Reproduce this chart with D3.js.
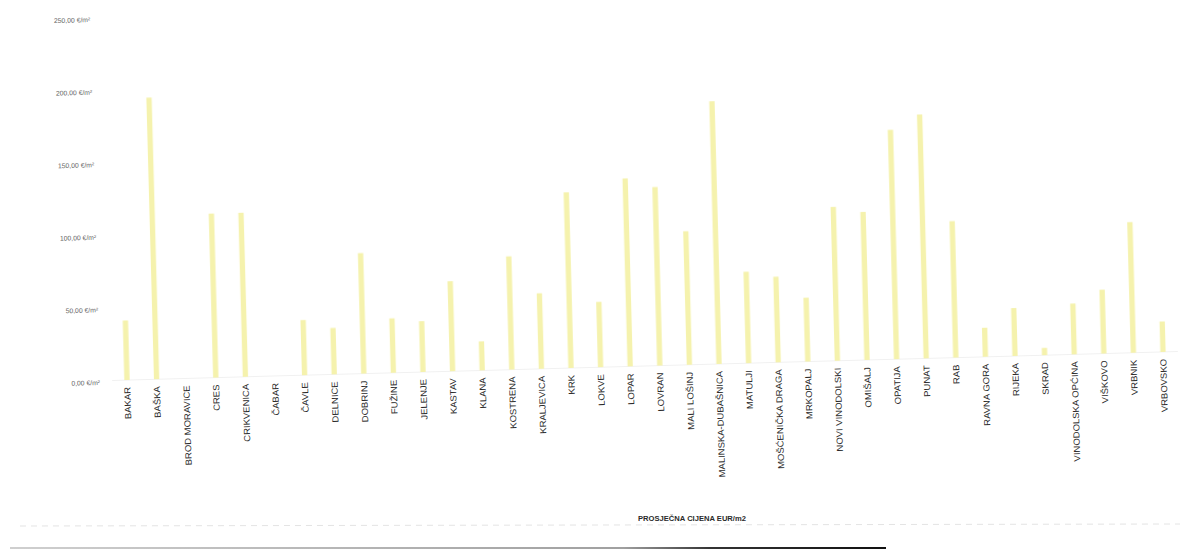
<!DOCTYPE html>
<html>
<head>
<meta charset="utf-8">
<script src="https://cdn.jsdelivr.net/npm/d3@7"></script>
<style>
  html, body { margin: 0; padding: 0; background: #ffffff; }
  svg { display: block; }
</style>
</head>
<body>
<svg id="chart" width="1200" height="552"></svg>
<script>
// Average price per m² by municipality
const categories = [
  "BAKAR", "BAŠKA", "BROD MORAVICE", "CRES", "CRIKVENICA", "ČABAR", "ČAVLE",
  "DELNICE", "DOBRINJ", "FUŽINE", "JELENJE", "KASTAV", "KLANA", "KOSTRENA",
  "KRALJEVICA", "KRK", "LOKVE", "LOPAR", "LOVRAN", "MALI LOŠINJ",
  "MALINSKA-DUBAŠNICA", "MATULJI", "MOŠĆENIČKA DRAGA", "MRKOPALJ",
  "NOVI VINODOLSKI", "OMIŠALJ", "OPATIJA", "PUNAT", "RAB", "RAVNA GORA",
  "RIJEKA", "SKRAD", "VINODOLSKA OPĆINA", "VIŠKOVO", "VRBNIK", "VRBOVSKO"
];
const prices = [
  41, 194, 0, 113, 113, 0, 38,
  32, 83, 37.5, 35, 62, 20, 78,
  52, 121, 45, 129.5, 123, 92,
  181, 63, 59, 44,
  106, 102, 158, 168, 94, 20,
  33, 5, 35, 44, 90, 21
];
const yTicks = [0, 50, 100, 150, 200, 250];
const axisTitle = "PROSJEČNA CIJENA EUR/m2";

const svg = d3.select("#chart");
const defs = svg.append("defs");

// The sheet sits slightly askew; the plot is drawn level and then turned.
const tilt = -1.55;
const pivot = [127, 380];
const plot = svg.append("g")
  .attr("transform", `rotate(${tilt}, ${pivot[0]}, ${pivot[1]})`);

const x = d3.scaleBand()
  .domain(categories)
  .range([112.2, 1178.2])
  .paddingInner(0.82)
  .paddingOuter(0.41);

const y = d3.scaleLinear()
  .domain([0, 250])
  .range([380, 17]);

const fmt = v => d3.format(".2f")(v).replace(".", ",") + " €/m²";

// y axis: labels only
const yAxis = plot.append("g")
  .attr("transform", "translate(103,0)")
  .call(d3.axisLeft(y).tickValues(yTicks).tickSize(0).tickPadding(3).tickFormat(fmt));
yAxis.select(".domain").remove();
yAxis.selectAll("text")
  .attr("dy", "0.55em")
  .attr("fill", "#666")
  .style("font-family", "'Liberation Sans', Arial, sans-serif")
  .style("font-size", "6.8px");

// faint baseline
plot.append("line")
  .attr("x1", x.range()[0]).attr("x2", x.range()[1])
  .attr("y1", y(0)).attr("y2", y(0))
  .attr("stroke", "#f1f1f1")
  .attr("stroke-width", 1);

// bars
const soft = defs.append("filter").attr("id", "soft")
  .attr("x", "-80%").attr("width", "260%");
soft.append("feGaussianBlur").attr("stdDeviation", 0.7);

plot.append("g")
  .selectAll("rect")
  .data(categories.map((c, i) => ({ c, v: prices[i] })))
  .join("rect")
  .attr("x", d => x(d.c))
  .attr("width", x.bandwidth())
  .attr("y", d => y(d.v))
  .attr("height", d => y(0) - y(d.v))
  .attr("fill", "#f5f2ad")
  .attr("filter", "url(#soft)");

// category labels, reading upward
const xAxis = plot.append("g")
  .attr("transform", `translate(0,${y(0) + 7})`)
  .call(d3.axisBottom(x).tickSize(0).tickPadding(0));
xAxis.select(".domain").remove();
xAxis.selectAll("text")
  .attr("transform", "rotate(-90) scale(1.08,1)")
  .attr("text-anchor", "end")
  .attr("x", 0)
  .attr("y", 0)
  .attr("dy", "0.35em")
  .attr("fill", "#2a2a2a")
  .style("font-family", "'Liberation Sans', Arial, sans-serif")
  .style("font-size", "8.8px");

// axis title
svg.append("text")
  .attr("x", 692)
  .attr("y", 521)
  .attr("text-anchor", "middle")
  .attr("fill", "#2a2a2a")
  .style("font-family", "'Liberation Sans', Arial, sans-serif")
  .style("font-weight", "bold")
  .style("font-size", "7.6px")
  .text(axisTitle);

// page edge rules along the bottom
svg.append("line")
  .attr("x1", 20).attr("x2", 1180)
  .attr("y1", 526).attr("y2", 524)
  .attr("stroke", "#e4e4e4")
  .attr("stroke-width", 1)
  .attr("stroke-dasharray", "6 5");
const grad = defs.append("linearGradient").attr("id", "edge");
grad.append("stop").attr("offset", "0%").attr("stop-color", "#cfcfcf");
grad.append("stop").attr("offset", "70%").attr("stop-color", "#a0a0a0");
grad.append("stop").attr("offset", "80%").attr("stop-color", "#333");
grad.append("stop").attr("offset", "100%").attr("stop-color", "#111");
svg.append("rect")
  .attr("x", 10).attr("y", 547)
  .attr("width", 876).attr("height", 2)
  .attr("fill", "url(#edge)");
</script>
</body>
</html>
